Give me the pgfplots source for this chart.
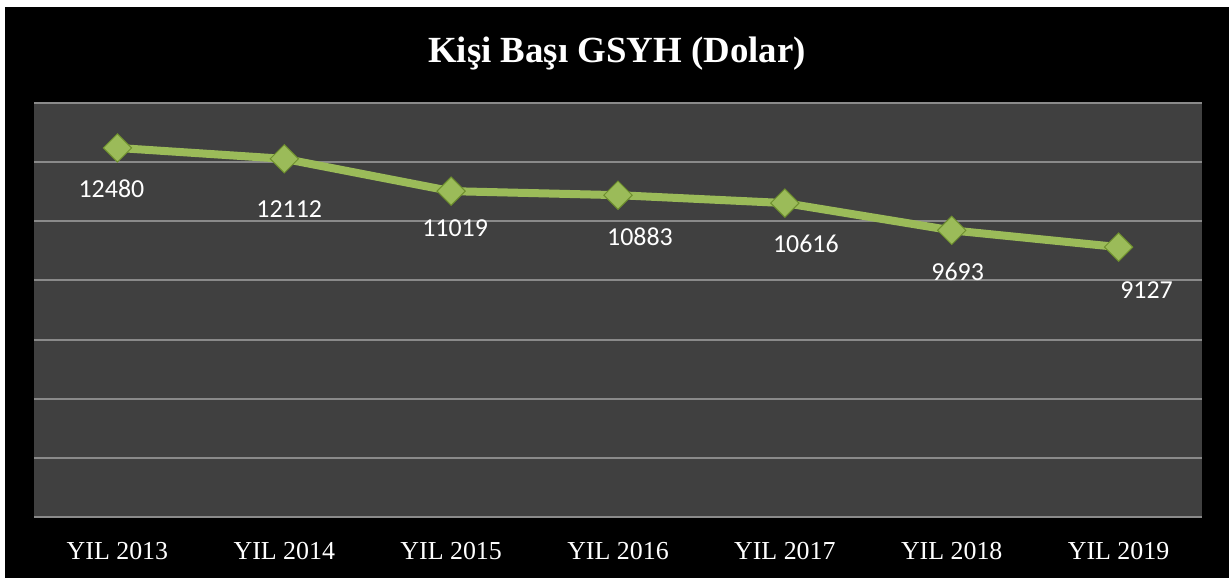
\documentclass[border=0pt]{standalone}
\usepackage{pgfplots}
\pgfplotsset{compat=1.18}
\usepackage{fontspec}
\setmainfont{Liberation Serif}
\newfontfamily\calibri{Carlito}
\definecolor{bg}{HTML}{404040}
\definecolor{grd}{HTML}{8A8A8A}
\definecolor{lg}{HTML}{9BBB59}
\definecolor{lgl}{HTML}{B8D86E}
\definecolor{lgd}{HTML}{6E8F2E}
\begin{document}
\begin{tikzpicture}[x=1bp,y=1bp]
\fill[white] (0,0) rectangle (1229,578);
\fill[black] (5,0) rectangle (1229,571);
\node[text=white, font=\fontsize{37}{40}\selectfont\bfseries] at (617,524) {Kişi Başı GSYH (Dolar)};
\begin{axis}[at={(34bp,61bp)}, anchor=south west, width=1168bp, height=414bp, scale only axis,
  xmin=-0.5, xmax=6.5, ymin=0, ymax=14000,
  ytick={0,2000,...,14000}, yticklabels={},
  xtick={0,...,6},
  xticklabels={YIL 2013,YIL 2014,YIL 2015,YIL 2016,YIL 2017,YIL 2018,YIL 2019},
  axis background/.style={fill=bg},
  axis line style={draw=none},
  ymajorgrids, grid style={grd, line width=2bp},
  major tick length=0pt,
  xticklabel style={text=white, font=\fontsize{26}{28}\selectfont, anchor=base, yshift=-43bp},
  clip=false]
\addplot[lg, line width=8bp, mark=square*, mark size=10bp,
  mark options={rotate=45, draw=lgd, line width=1bp, top color=lgl, bottom color=lgd, shading angle=45}]
  coordinates {(0,12480) (1,12112) (2,11019) (3,10883) (4,10616) (5,9693) (6,9127)};
\begin{scope}[every node/.style={text=white, font=\calibri\fontsize{26}{28}\selectfont}]
\node[xshift=-6bp,yshift=-41bp] at (axis cs:0,12480) {12480};
\node[xshift=5bp,yshift=-50bp] at (axis cs:1,12112) {12112};
\node[xshift=4bp,yshift=-37bp] at (axis cs:2,11019) {11019};
\node[xshift=22bp,yshift=-42bp] at (axis cs:3,10883) {10883};
\node[xshift=21bp,yshift=-41bp] at (axis cs:4,10616) {10616};
\node[xshift=6bp,yshift=-41bp] at (axis cs:5,9693) {9693};
\node[xshift=28bp,yshift=-43bp] at (axis cs:6,9127) {9127};
\end{scope}
\end{axis}
\end{tikzpicture}
\end{document}
